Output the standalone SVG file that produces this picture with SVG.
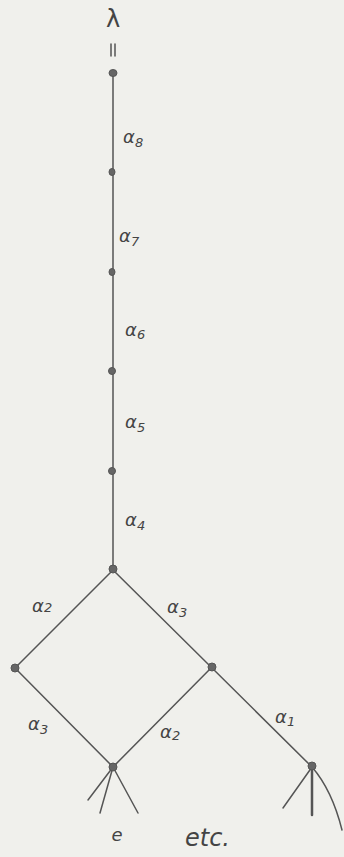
<svg xmlns="http://www.w3.org/2000/svg" width="344" height="857" viewBox="0 0 344 857">
<style>
.e{stroke:#555;stroke-width:1.5;fill:none;stroke-linecap:round}
.n{fill:#666;stroke:#555;stroke-width:1}
.t{font-family:"DejaVu Sans",sans-serif;font-style:italic;font-size:18px;fill:#444}
.s{font-size:13px}
</style>
<rect width="344" height="857" fill="#f0f0ec"/>
<g id="connectors">
<line class="e" x1="113" y1="73" x2="113" y2="570"/>
<line class="e" x1="113" y1="570" x2="15" y2="668"/>
<line class="e" x1="113" y1="570" x2="312" y2="767"/>
<line class="e" x1="15" y1="668" x2="113" y2="767"/>
<line class="e" x1="212" y1="667" x2="113" y2="767"/>
<line class="e" x1="113" y1="767" x2="88" y2="800"/>
<line class="e" x1="113" y1="767" x2="100" y2="813"/>
<line class="e" x1="113" y1="767" x2="138" y2="813"/>
<line class="e" x1="312" y1="767" x2="283" y2="808"/>
<line class="e" x1="312" y1="767" x2="312" y2="815" style="stroke-width:2.5"/>
<path class="e" d="M312 767 Q332 790 342 830"/>
</g>
<g id="top-label">
<text class="t" x="113" y="27" text-anchor="middle" style="font-style:normal;font-size:24px">λ</text>
<line class="e" x1="111" y1="44" x2="111" y2="56"/>
<line class="e" x1="115" y1="44" x2="115" y2="56"/>
</g>
<g id="n8"><ellipse class="n" cx="113" cy="73" rx="4" ry="3.5"/></g>
<g id="n7"><ellipse class="n" cx="112" cy="172" rx="3" ry="3.5"/></g>
<g id="n6"><ellipse class="n" cx="112" cy="272" rx="3" ry="3.5"/></g>
<g id="n5"><ellipse class="n" cx="112" cy="371" rx="3.5" ry="3.5"/></g>
<g id="n4"><ellipse class="n" cx="112" cy="471" rx="3.5" ry="3.5"/></g>
<g id="n3"><circle class="n" cx="113" cy="569" r="4"/></g>
<g id="nL"><circle class="n" cx="15" cy="668" r="4"/></g>
<g id="nR"><circle class="n" cx="212" cy="667" r="4"/></g>
<g id="nB"><circle class="n" cx="113" cy="767" r="4"/></g>
<g id="nBR"><circle class="n" cx="312" cy="766" r="4"/></g>
<g id="labels">
<text class="t" x="123" y="143">α<tspan class="s" dy="4">8</tspan></text>
<text class="t" x="119" y="242">α<tspan class="s" dy="4">7</tspan></text>
<text class="t" x="125" y="336">α<tspan class="s" dy="3">6</tspan></text>
<text class="t" x="125" y="428">α<tspan class="s" dy="4">5</tspan></text>
<text class="t" x="125" y="526">α<tspan class="s" dy="4">4</tspan></text>
<text class="t" x="32" y="612">α<tspan class="s" dy="0">2</tspan></text>
<text class="t" x="167" y="613">α<tspan class="s" dy="4">3</tspan></text>
<text class="t" x="28" y="730">α<tspan class="s" dy="4">3</tspan></text>
<text class="t" x="160" y="738">α<tspan class="s" dy="2">2</tspan></text>
<text class="t" x="275" y="723">α<tspan class="s" dy="3">1</tspan></text>
<text class="t" x="117" y="841" text-anchor="middle">e</text>
<text class="t" x="185" y="846" style="font-size:24px">etc.</text>
</g>
</svg>
